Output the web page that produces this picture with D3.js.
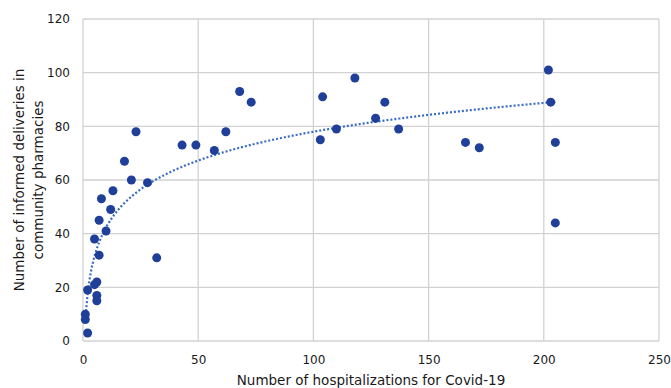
<!DOCTYPE html>
<html>
<head>
<meta charset="utf-8">
<script src="https://cdn.jsdelivr.net/npm/d3@7"></script>
<style>
  html, body { margin: 0; padding: 0; background: #fff; }
  text { font-family: "DejaVu Sans", Verdana, sans-serif; fill: #1a1a1a; }
</style>
</head>
<body>
<svg id="chart" width="671" height="388"></svg>
<script>
// hospitalizations (x) vs informed deliveries (y)
const hospitalizations = [1, 1, 2, 2, 5, 5, 6, 6, 6, 7, 7, 8, 10, 12, 13, 18, 21, 23, 28, 32,
  43, 49, 57, 62, 68, 73, 103, 104, 110, 118, 127, 131, 137, 166, 172, 202, 203, 205, 205];
const deliveries = [10, 8, 3, 19, 38, 21, 22, 17, 15, 32, 45, 53, 41, 49, 56, 67, 60, 78, 59, 31,
  73, 73, 71, 78, 93, 89, 75, 91, 79, 98, 83, 89, 79, 74, 72, 101, 89, 74, 44];
const xTicks = [0, 50, 100, 150, 200, 250];
const yTicks = [0, 20, 40, 60, 80, 100, 120];

const W = 671, H = 388;
const M = { top: 19, right: 12, bottom: 47, left: 83 };
const iw = W - M.left - M.right;
const ih = H - M.top - M.bottom;

const svg = d3.select('#chart');
const g = svg.append('g').attr('transform', `translate(${M.left},${M.top})`);

const x = d3.scaleLinear().domain([0, 250]).range([0, iw]);
const y = d3.scaleLinear().domain([0, 120]).range([ih, 0]);

// grid + frame
const grid = '#d2d2d2';
g.append('g').selectAll('line').data(yTicks).join('line')
  .attr('x1', 0).attr('x2', iw)
  .attr('y1', (d) => y(d)).attr('y2', (d) => y(d))
  .attr('stroke', grid).attr('stroke-width', 1.3);
g.append('g').selectAll('line').data(xTicks).join('line')
  .attr('y1', 0).attr('y2', ih)
  .attr('x1', (d) => x(d)).attr('x2', (d) => x(d))
  .attr('stroke', grid).attr('stroke-width', 1.3);

// axes (labels only)
const xAxis = g.append('g').attr('transform', `translate(0,${ih})`)
  .call(d3.axisBottom(x).tickValues(xTicks).tickSize(0).tickPadding(14));
const yAxis = g.append('g')
  .call(d3.axisLeft(y).tickValues(yTicks).tickSize(0).tickPadding(13));
[xAxis, yAxis].forEach((a) => {
  a.select('.domain').remove();
  a.selectAll('text').attr('font-size', 12).attr('font-family', '"DejaVu Sans", sans-serif').attr('fill', '#1a1a1a');
});

// logarithmic trendline fitted to the data
const n = hospitalizations.length;
const lx = hospitalizations.map((v) => Math.log(v));
const mx = d3.mean(lx), my = d3.mean(deliveries);
const a = d3.sum(lx, (v, i) => (v - mx) * (deliveries[i] - my)) / d3.sum(lx, (v) => (v - mx) ** 2);
const b = my - a * mx;
const [x0, x1] = d3.extent(hospitalizations);
const trendX = d3.range(x0, x1 + 0.01, 0.5);
g.append('path')
  .datum(trendX)
  .attr('fill', 'none')
  .attr('stroke', '#3a6cc6')
  .attr('stroke-width', 2.2)
  .attr('stroke-dasharray', '2,2')
  .attr('d', d3.line().x((d) => x(d)).y((d) => y(a * Math.log(d) + b)));

// points
g.append('g').selectAll('circle').data(d3.range(n)).join('circle')
  .attr('cx', (i) => x(hospitalizations[i]))
  .attr('cy', (i) => y(deliveries[i]))
  .attr('r', 4.5)
  .attr('fill', '#1f3f99');

// titles
svg.append('text')
  .attr('x', M.left + iw / 2).attr('y', 385)
  .attr('text-anchor', 'middle').attr('font-size', 13.5)
  .text('Number of hospitalizations for Covid-19');
const yt = svg.append('text')
  .attr('transform', `translate(24,${M.top + ih / 2}) rotate(-90)`)
  .attr('text-anchor', 'middle').attr('font-size', 13.5);
yt.append('tspan').attr('x', 0).attr('dy', 0).text('Number of informed deliveries in');
yt.append('tspan').attr('x', 0).attr('dy', 18.5).text('community pharmacies');
</script>
</body>
</html>
